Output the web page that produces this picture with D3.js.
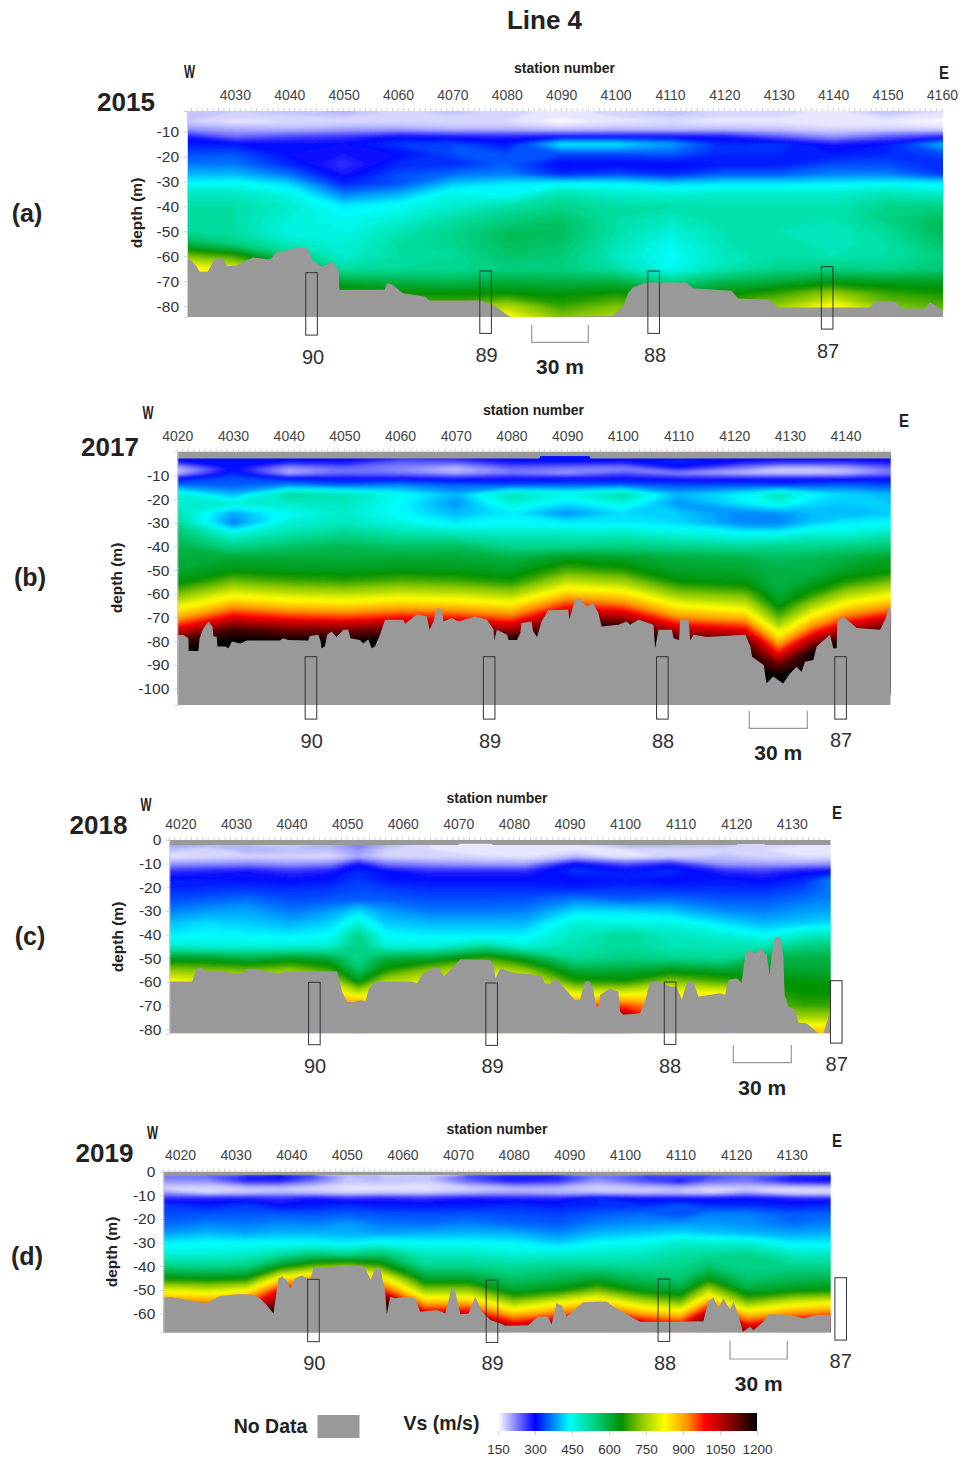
<!DOCTYPE html>
<html>
<head>
<meta charset="utf-8">
<title>Line 4</title>
<script src="https://cdn.jsdelivr.net/npm/d3@7"></script>
<style>
    html, body { margin: 0; padding: 0; background: #fff; }
    svg { display: block; }
    text { font-family: "Liberation Sans", Arial, sans-serif; fill: #222; }
</style>
</head>
<body>
<div id="chart"></div>
<script>
(function(d3) {
    'use strict';

    // Vs (m/s), one row per depth, one column per station
    var stations15 = [4021, 4030, 4040, 4050, 4060, 4070, 4080, 4090, 4100, 4110, 4120, 4130, 4140, 4150, 4160];
    var depths15 = [2, 6, 9, 12, 15, 19, 23, 27, 31, 35, 40, 45, 50, 55, 60, 65, 70, 75, 80, 85];
    var vs15 = [
        [190,180,185,195,175,185,175,165,175,190,175,175,165,190,170],
        [180,165,170,170,175,170,170,155,165,170,165,165,160,160,155],
        [215,200,195,205,205,195,195,185,190,190,190,185,175,180,175],
        [290,240,260,270,300,290,285,300,300,300,295,250,215,250,280],
        [310,310,300,300,330,340,310,430,430,390,320,330,290,310,400],
        [340,345,300,290,300,340,340,340,340,350,320,320,310,320,340],
        [365,365,320,270,320,320,350,300,300,300,310,310,340,340,320],
        [400,400,360,290,340,360,370,320,340,320,350,350,370,370,330],
        [445,450,420,320,345,410,430,445,440,420,430,430,435,445,440],
        [490,490,460,370,395,460,440,500,480,470,480,480,480,500,480],
        [510,510,480,430,450,480,510,530,510,510,500,500,500,530,540],
        [520,510,470,450,470,510,540,560,510,490,510,500,500,540,570],
        [520,510,460,460,500,530,570,570,510,470,500,500,490,520,580],
        [590,540,490,470,510,530,570,560,500,450,500,510,490,510,560],
        [720,680,550,480,510,520,560,550,490,445,490,510,500,510,540],
        [840,800,660,510,520,525,540,540,510,450,500,530,540,530,550],
        [880,860,720,600,590,580,600,590,590,530,580,600,630,620,620],
        [900,880,800,680,650,650,650,640,660,620,640,680,740,680,660],
        [900,900,850,760,720,700,760,680,720,700,700,740,830,720,700],
        [900,900,880,800,780,760,840,730,760,740,740,780,860,760,740]
    ];
    var bed15 = [
        [4021.2,60],[4023,64.2],[4023.5,66.2],[4025,66.2],[4026.4,60.9],[4027.9,61],[4028.5,64],[4030.3,63.7],
        [4032.2,61.6],[4033.4,60.5],[4036.5,61.3],[4037.7,58.3],[4039.6,57.6],[4041.4,56.5],[4043.3,56.5],
        [4044.2,61.5],[4046,64.2],[4047.9,62.2],[4049.1,65.5],[4049.2,73.5],[4057.5,73.5],[4058,70.8],[4059,71.5],
        [4060.9,74.9],[4064.9,76.2],[4065.8,77.8],[4075.3,77.8],[4078,80.2],[4079.6,82.9],[4080.8,84.5],
        [4099.5,84],[4101.4,80.2],[4102.3,74.9],[4103.2,72.5],[4105.7,70.5],[4113,70.5],[4114.2,72.9],[4121.3,73.9],
        [4122.5,77],[4128.3,77.4],[4129.8,80.6],[4146.7,80.6],[4148,77.9],[4151.6,78.4],[4152.5,81],[4156.9,81],
        [4157.8,78.4],[4160.2,81.8]
    ];

    var stations17 = [4020, 4030, 4040, 4050, 4060, 4070, 4080, 4090, 4100, 4110, 4122, 4128, 4134, 4140, 4148];
    var depths17 = [2, 4, 7, 9, 11, 14, 18, 22, 26, 30, 35, 40, 45, 50, 55, 60, 65, 70, 75, 80, 85, 90, 95, 100];
    var vs17 = [
        [300,300,300,300,300,300,300,300,300,300,300,300,300,300,300],
        [300,300,300,300,250,260,300,300,300,320,300,290,290,290,300],
        [190,300,210,240,220,190,240,230,220,290,220,190,190,200,240],
        [190,320,200,240,230,200,230,210,250,220,190,185,185,190,230],
        [290,340,300,290,290,280,290,290,290,280,280,280,280,285,290],
        [360,350,370,350,370,350,340,350,350,340,340,330,340,350,340],
        [470,400,520,500,450,400,500,460,510,400,440,500,440,420,400],
        [480,470,480,490,440,380,470,420,460,380,430,460,420,410,410],
        [500,390,450,480,440,400,430,380,420,410,370,380,400,400,410],
        [520,370,470,490,460,430,440,430,430,420,370,370,410,430,440],
        [560,470,510,530,510,500,490,490,490,470,450,450,480,470,500],
        [590,530,560,580,560,570,530,530,540,530,520,530,530,540,550],
        [600,610,605,600,605,605,595,630,620,600,590,570,580,595,620],
        [610,640,630,625,635,630,620,690,665,615,610,590,590,620,640],
        [640,715,690,680,700,690,665,775,750,650,635,590,620,665,715],
        [715,805,775,765,785,775,750,870,845,730,705,605,665,750,805],
        [805,900,870,860,880,870,845,980,945,825,790,635,750,845,900],
        [900,1015,980,965,990,980,945,1110,1070,920,885,700,845,945,1015],
        [1015,1150,1110,1100,1125,1110,1070,1200,1200,1045,1000,785,945,1070,1150],
        [1150,1200,1200,1200,1200,1200,1200,1200,1200,1175,1130,880,1070,1200,1200],
        [1200,1200,1200,1200,1200,1200,1200,1200,1200,1200,1200,990,1200,1200,1200],
        [1200,1200,1200,1200,1200,1200,1200,1200,1200,1200,1200,1125,1200,1200,1200],
        [1200,1200,1200,1200,1200,1200,1200,1200,1200,1200,1200,1200,1200,1200,1200],
        [1200,1200,1200,1200,1200,1200,1200,1200,1200,1200,1200,1200,1200,1200,1200]
    ];
    var bed17 = [
        [4020,77.4],[4021.1,77.4],[4022,78.8],[4022.05,84.2],[4023.8,84.2],[4024,78.8],[4024.7,74.5],[4025.6,71.7],
        [4026.3,73.8],[4026.5,78],[4027.1,78.3],[4027.2,82.3],[4028.6,82.3],[4029.2,83],[4029.8,80.2],[4031.3,81],
        [4032.5,79.8],[4038.4,79.8],[4039,78.8],[4039.9,79.5],[4043.5,79.8],[4043.8,77.8],[4045.3,77.3],[4045.7,79.8],
        [4045.9,83],[4046.5,82.3],[4046.9,77.3],[4047.7,76],[4048.6,78.3],[4049.8,75.2],[4050.7,75.2],[4051.1,78.8],
        [4052.8,79.5],[4053.4,81],[4054.3,79.2],[4054.9,83],[4055.5,82.3],[4056.4,77.3],[4057.3,71],[4060.6,71],
        [4060.9,72.7],[4063,68.8],[4064.8,69.5],[4065.3,75.2],[4066,71.7],[4066.6,66],[4067.5,66.7],[4067.8,71.7],
        [4069.3,70.3],[4070.5,71.7],[4073.5,69.6],[4075.6,71],[4076.8,75.2],[4076.9,79.8],[4077.4,75.2],[4079.2,77.3],
        [4079.5,79.5],[4081,79.5],[4081.6,76.6],[4081.8,72.4],[4083.6,71.7],[4083.9,75.9],[4084.6,78.3],[4085.4,71.7],
        [4086.6,67],[4090.2,66.7],[4090.4,70.9],[4091.4,62.5],[4092.3,62],[4093.5,65.3],[4094.7,63.9],[4095.6,68.1],
        [4096.2,73.8],[4099.2,73.1],[4100.7,71.7],[4101.3,73.1],[4102.8,71],[4105.5,73.1],[4105.8,83],[4106.4,75.2],
        [4108.8,75.2],[4109.1,78.8],[4110.1,79.5],[4110.3,71],[4111.8,71],[4112.1,79.8],[4112.7,77.3],[4115.1,78.3],
        [4122,77.3],[4122.9,82.3],[4123.2,86.6],[4125.3,90.1],[4125.8,97.9],[4127,95],[4128.8,97.9],[4130,93.7],
        [4131.2,90.8],[4132.1,93],[4132.7,88.7],[4134.2,88],[4134.8,82.3],[4137.2,77.3],[4137.8,83],[4138.4,83],
        [4138.5,71.7],[4139.6,69.6],[4142,74.5],[4146.2,75.2],[4147.1,71],[4147.7,66],[4148.1,66]
    ];
    var strip17 = [[4020,2.9],[4085,2.9],[4085.2,1.8],[4094,1.8],[4094.2,2.9],[4148.1,2.9]];

    var stations18 = [4018, 4025, 4032, 4040, 4047, 4052, 4057, 4065, 4075, 4082, 4091, 4100, 4108, 4118, 4125, 4132, 4137];
    var depths18 = [2, 4, 7, 10, 13, 17, 21, 25, 30, 35, 40, 45, 50, 55, 60, 65, 70, 75, 80];
    var vs18 = [
        [210,200,190,180,200,230,200,170,165,165,170,200,200,190,170,170,170],
        [190,170,200,190,190,215,180,170,160,160,165,170,170,175,170,165,165],
        [165,170,175,175,170,200,175,170,170,165,190,160,175,185,175,170,170],
        [210,215,220,210,220,290,230,215,205,205,300,250,280,210,205,205,210],
        [270,280,290,270,285,320,300,275,275,275,330,310,330,275,265,290,300],
        [310,310,305,300,310,330,310,305,305,305,300,310,300,310,300,320,370],
        [320,325,330,325,330,340,335,325,325,325,320,330,325,325,325,340,365],
        [340,350,360,340,345,350,350,340,340,345,370,350,360,345,345,360,370],
        [370,385,390,365,385,420,385,365,365,370,420,420,410,375,370,385,390],
        [405,420,410,395,415,470,410,400,400,400,470,460,460,420,400,410,420],
        [430,440,435,430,440,530,440,430,430,430,490,520,490,470,440,480,490],
        [480,470,470,470,475,540,470,470,520,470,500,520,500,500,500,540,550],
        [620,620,590,620,600,530,600,610,680,620,520,540,530,520,590,590,590],
        [730,720,710,730,680,560,660,730,780,730,600,600,630,610,620,610,610],
        [830,800,800,800,780,640,760,800,830,830,670,660,730,690,650,640,640],
        [900,860,860,860,860,780,840,860,860,860,810,810,830,830,680,650,650],
        [900,900,900,900,900,950,900,900,900,900,950,960,900,900,700,680,680],
        [900,900,900,900,900,1050,900,900,900,900,1050,1100,900,900,760,750,750],
        [900,900,900,900,900,1050,900,900,900,900,1050,1100,900,900,830,860,860]
    ];
    var bed18 = [
        [4018.1,59.9],[4022.1,59.9],[4022.4,57.8],[4023,54.3],[4023.6,54],[4024.5,55.3],[4027.8,55.3],[4029,56.4],
        [4031.1,56.4],[4032,54.7],[4033.8,54.7],[4035.6,55.7],[4037.4,56.4],[4039.2,55.7],[4048.2,55.7],[4049.1,64.2],
        [4050,68.4],[4051.2,68.7],[4052.4,67.7],[4053.3,68.4],[4053.9,62.8],[4055.1,59.9],[4061.4,59.9],[4062.6,60.6],
        [4063.5,56.8],[4065.6,54],[4066.5,54.3],[4067.4,57.8],[4068.3,55.7],[4070.4,50.5],[4075.8,50.8],[4076.4,53.6],
        [4076.7,58.5],[4077.6,54.3],[4079.1,55.7],[4080.5,56.4],[4083,56.8],[4085,57.8],[4085.6,60.6],[4086.5,60.9],
        [4087.5,58.5],[4088.6,61.4],[4091,67.7],[4091.9,67.7],[4092.8,59.9],[4093.7,59.9],[4094.3,63.5],[4094.8,70.5],
        [4095.2,70.5],[4095.5,65.6],[4097.3,62.8],[4098.8,64.2],[4099.1,72.6],[4099.7,74],[4102.7,73.3],[4103.6,68.4],
        [4104.5,59.9],[4105.7,59.9],[4106.9,60.6],[4108.1,62.1],[4109.3,62.1],[4110.2,67.7],[4111.2,59.9],[4112.3,59.9],
        [4113.2,66.3],[4117.1,64.9],[4118,65.6],[4118.6,59.2],[4120.1,58.5],[4121,60.6],[4121.6,48],[4122.5,46.5],
        [4123.4,48],[4124.3,45.8],[4125.5,48.7],[4126,57.1],[4126.4,48.7],[4127,40.9],[4127.9,40.9],[4128.5,49.4],
        [4128.7,65.6],[4129.4,70.5],[4130.6,71.9],[4131.2,77.2],[4132.7,77.6],[4134.8,81.8],[4135.7,81.8],[4136.9,72.6],
        [4137,72.6]
    ];
    var strip18 = [[4018,2.1],[4070,2.1],[4070.2,1.6],[4076,1.6],[4076.2,2.1],[4120,2.1],[4120.2,1.7],[4125,1.7],[4125.2,2.1],[4137,2.1]];

    var stations19 = [4017, 4025, 4032, 4038, 4044, 4050, 4056, 4064, 4072, 4080, 4088, 4095, 4103, 4110, 4115, 4122, 4130, 4137];
    var depths19 = [2, 4, 7, 9, 11, 14, 18, 22, 26, 30, 35, 40, 45, 50, 55, 60, 65, 68];
    var vs19 = [
        [230,240,280,300,260,190,190,180,260,290,280,230,260,260,260,240,280,290],
        [215,215,280,280,230,185,190,180,240,290,270,210,250,290,240,230,290,300],
        [175,170,180,180,175,165,165,165,175,190,190,175,180,190,175,180,170,175],
        [215,180,190,200,190,180,185,185,200,210,200,195,190,190,180,210,170,170],
        [270,280,280,270,290,270,280,270,290,280,280,320,290,290,290,300,280,270],
        [330,310,330,300,310,320,310,310,310,320,310,320,320,340,320,320,310,320],
        [340,345,345,350,345,350,345,340,345,340,335,350,360,340,370,370,350,355],
        [355,370,365,375,370,385,365,360,370,355,350,370,380,385,385,380,360,370],
        [385,400,390,400,400,395,390,395,400,395,375,400,410,420,410,400,390,395],
        [430,440,440,440,440,430,450,440,440,435,410,440,450,480,470,470,430,430],
        [470,470,480,510,550,530,560,490,490,470,475,480,490,510,520,530,490,490],
        [540,530,540,630,700,730,680,530,530,520,530,530,520,530,560,530,530,530],
        [640,630,645,830,900,930,850,610,610,560,580,605,570,555,630,555,575,585],
        [800,780,810,1000,1060,1100,990,730,730,610,640,710,630,605,760,605,630,640],
        [930,915,945,1100,1200,1200,1200,875,875,730,800,860,760,710,900,710,780,805],
        [1100,1080,1115,1200,1200,1200,1200,1030,1030,875,930,1005,900,860,1060,860,915,940],
        [1200,1200,1200,1200,1200,1200,1200,1200,1200,1030,1100,1180,1060,1005,1200,1005,1080,1110],
        [1200,1200,1200,1200,1200,1200,1200,1200,1200,1150,1200,1200,1170,1110,1200,1110,1190,1200]
    ];
    var bed19 = [
        [4017,53.2],[4018.8,53.2],[4022.4,54.8],[4024.8,55.7],[4027.2,52.6],[4030.2,51.9],[4032.6,51.9],[4034.4,53.6],
        [4035.6,56.5],[4036.8,60],[4037.7,45.1],[4038.3,44.4],[4039.2,46],[4039.8,49.4],[4040.7,45.1],[4041.9,44],
        [4043.4,45.8],[4044,40.9],[4047.6,40.1],[4052.4,39.7],[4053.3,40.9],[4054.3,45.8],[4055.1,40.9],[4056,40.9],
        [4056.9,50.8],[4057.2,60.4],[4057.8,52.9],[4058.7,53.6],[4060.8,52.9],[4062.3,53.6],[4063.2,59.3],[4066.2,58.6],
        [4067.7,60],[4068.9,48.7],[4069.5,50.8],[4070.4,60.4],[4071.9,60],[4073.1,52.9],[4074.3,59.3],[4075.8,62.8],
        [4077.6,64.3],[4078.5,65.2],[4082.6,65],[4084.4,61.4],[4086.2,61.4],[4086.8,64.7],[4087.7,55.7],[4088.6,56.5],
        [4089.5,61.4],[4092.5,55.3],[4096.7,55],[4098.2,57.6],[4102.7,63.5],[4107.5,63.5],[4114.1,63.3],[4115,55],
        [4115.9,53.3],[4116.8,57.9],[4117.7,53.6],[4118.9,58.6],[4119.5,55],[4120.4,60.7],[4121.2,67.8],[4122.5,65.7],
        [4123.1,67.1],[4124.9,63.5],[4125.8,60.4],[4129.7,60.7],[4132.1,62.1],[4134.5,60.7],[4137,60.7]
    ];
    var strip19 = [[4017,1.4],[4137,1.4]];

    // tick labels and well names
    var xTicks15 = d3.range(4030, 4161, 10);
    var xTicks17 = d3.range(4020, 4141, 10);
    var xTicks18 = d3.range(4020, 4131, 10);
    var yTicks15 = d3.range(10, 81, 10);
    var yTicks17 = d3.range(10, 101, 10);
    var yTicks18 = d3.range(0, 81, 10);
    var yTicks19 = d3.range(0, 61, 10);
    var wellNames = ['90', '89', '88', '87'];
    var wellStations15 = [4044.1, 4076.1, 4107, 4138.9];
    var wellStations17 = [4044, 4076, 4107.1, 4139.1];
    var wellStations18 = [4044.1, 4076, 4108.1, 4138];
    var wellStations19 = [4044, 4076.1, 4107, 4138.8];

    var colorValues = [150, 300, 440, 530, 650, 730, 825, 920, 990, 1100, 1200];
    var colorRange = ['#ffffff', '#0000ff', '#00ffff', '#00d68c', '#009000', '#8cc800', '#ffff00', '#ff9000', '#ff0000', '#800000', '#000000'];
    var legendTicks = [150, 300, 450, 600, 750, 900, 1050, 1200];

    var width = 961,
        height = 1460,
        grey = '#999999';

    var color = d3.scaleLinear().domain(colorValues).range(colorRange).clamp(true);
    var thresholds = d3.range(150, 1200, 10);

    var svg = d3.select('#chart').append('svg')
        .attr('width', width)
        .attr('height', height);

    var defs = svg.append('defs');
    defs.append('filter').attr('id', 'soft')
        .append('feGaussianBlur').attr('stdDeviation', 1.6);

    function label(x, y, txt, size, weight, fill) {
        return svg.append('text')
            .attr('x', x)
            .attr('y', y)
            .attr('dy', '.35em')
            .attr('text-anchor', 'middle')
            .attr('font-size', size)
            .attr('font-weight', weight || 'normal')
            .style('fill', fill || '#222')
            .text(txt);
    }

    function drawPanel(p) {
        var x = d3.scaleLinear().domain(p.stationDomain).range([p.left, p.right]);
        var y = d3.scaleLinear().domain(p.depthDomain).range([p.top, p.bottom]);

        // contour coordinates are in grid cells, cell centres sit at i + 0.5
        var gridX = d3.scaleLinear().domain(p.stations.map(function(d, i) { return i + 0.5; })).range(p.stations);
        var gridY = d3.scaleLinear().domain(p.depths.map(function(d, i) { return i + 0.5; })).range(p.depths);

        var project = d3.geoTransform({
            point: function(a, b) { this.stream.point(x(gridX(a)), y(gridY(b))); }
        });
        var path = d3.geoPath(project);

        var contours = d3.contours()
            .size([p.stations.length, p.depths.length])
            .thresholds(thresholds)(p.vs.flat());

        var clipId = 'clip' + p.year;
        defs.append('clipPath').attr('id', clipId)
            .append('rect')
            .attr('x', p.left)
            .attr('y', p.top)
            .attr('width', p.right - p.left)
            .attr('height', p.bottom - p.top);

        var plot = svg.append('g').attr('clip-path', 'url(#' + clipId + ')');

        plot.append('g')
            .attr('filter', 'url(#soft)')
            .selectAll('path')
            .data(contours)
            .enter()
            .append('path')
            .attr('d', path)
            .attr('fill', function(d) { return color(d.value + 5); });

        // no data below the profile
        var bedArea = d3.area()
            .x(function(d) { return x(d[0]); })
            .y0(p.bottom + 1)
            .y1(function(d) { return y(d[1]); });

        plot.append('path')
            .datum(p.bed)
            .attr('d', bedArea)
            .attr('fill', grey);

        // no data strip along the surface
        if (p.strip) {
            var stripArea = d3.area()
                .x(function(d) { return x(d[0]); })
                .y0(p.top - 1)
                .y1(function(d) { return y(d[1]); });

            plot.append('path')
                .datum(p.strip)
                .attr('d', stripArea)
                .attr('fill', grey);
        }

        // little tick combs, one per station
        var minor = svg.append('g').attr('stroke', '#d0d0d0');
        minor.selectAll('line')
            .data(d3.range(Math.ceil(p.stationDomain[0]), p.stationDomain[1]))
            .enter()
            .append('line')
            .attr('x1', function(d) { return x(d); })
            .attr('x2', function(d) { return x(d); })
            .attr('y1', p.top - 3)
            .attr('y2', p.top);

        var xAxis = svg.append('g')
            .attr('transform', 'translate(0,' + (p.top - 3) + ')')
            .call(d3.axisTop(x).tickValues(p.xTicks).tickFormat(d3.format('d')).tickSize(0).tickPadding(p.xPadding));
        xAxis.select('.domain').remove();
        xAxis.selectAll('text')
            .attr('font-size', 14)
            .style('fill', '#444');

        var yAxis = svg.append('g')
            .attr('transform', 'translate(' + p.left + ',0)')
            .call(d3.axisLeft(y).tickValues(p.yTicks).tickFormat(function(d) { return d === 0 ? '0' : '-' + d; }).tickSize(3).tickPadding(5));
        yAxis.select('.domain').attr('stroke', '#d0d0d0');
        yAxis.selectAll('.tick line').attr('stroke', '#d0d0d0');
        yAxis.selectAll('text')
            .attr('font-size', 15.5)
            .style('fill', '#333');

        // wells
        svg.append('g').selectAll('rect')
            .data(p.wellStations)
            .enter()
            .append('rect')
            .attr('x', function(d) { return x(d) - 5.8; })
            .attr('y', function(d, i) { return p.wellTops[i]; })
            .attr('width', 11.6)
            .attr('height', 62.4)
            .attr('fill', 'none')
            .attr('stroke', '#333')
            .attr('stroke-width', 1);

        wellNames.forEach(function(name, i) {
            label(p.wellLabelX[i], p.wellLabelY[i], name, 20, 'normal', '#333');
        });

        // scale bar
        var s = p.scaleBar;
        svg.append('path')
            .attr('d', d3.line()([[s[0], s[2]], [s[0], s[3]], [s[1], s[3]], [s[1], s[2]]]))
            .attr('fill', 'none')
            .attr('stroke', '#999')
            .attr('stroke-width', 1.2);
        label((s[0] + s[1]) / 2, s[3] + 24.5, '30 m', 21, 'bold');

        label(p.yearPos[0], p.yearPos[1], p.year, 26, 'bold');
        label(p.tagPos[0], p.tagPos[1], p.tag, 25, 'bold');
        label(p.stationPos[0], p.stationPos[1], 'station number', 14, 'bold');
        label(p.westPos[0], p.westPos[1], 'W', 18, 'bold')
            .attr('textLength', 11)
            .attr('lengthAdjust', 'spacingAndGlyphs');
        label(p.eastPos[0], p.eastPos[1], 'E', 19, 'bold')
            .attr('textLength', 10)
            .attr('lengthAdjust', 'spacingAndGlyphs');
        svg.append('text')
            .attr('transform', 'translate(' + p.depthPos[0] + ',' + p.depthPos[1] + ') rotate(-90)')
            .attr('dy', '.35em')
            .attr('text-anchor', 'middle')
            .attr('font-size', 15.5)
            .attr('font-weight', 'bold')
            .text('depth (m)');
    }

    label(544.5, 20, 'Line 4', 26, 'bold');

    drawPanel({
        year: '2015', tag: '(a)',
        stations: stations15, depths: depths15, vs: vs15, bed: bed15,
        stationDomain: [4021.2, 4160.2], depthDomain: [1.7, 84.4],
        left: 187, right: 943, top: 111, bottom: 317,
        xTicks: xTicks15, yTicks: yTicks15, xPadding: 8,
        wellStations: wellStations15, wellTops: [272.7, 271, 271, 266.7],
        wellLabelX: [313, 486.5, 655, 828], wellLabelY: [357, 355, 355, 351],
        scaleBar: [531.7, 588.3, 325, 342.3],
        yearPos: [126, 102], tagPos: [27, 213], stationPos: [564.5, 68],
        westPos: [189.5, 72], eastPos: [944, 72], depthPos: [137, 213]
    });

    drawPanel({
        year: '2017', tag: '(b)',
        stations: stations17, depths: depths17, vs: vs17, bed: bed17, strip: strip17,
        stationDomain: [4020, 4148.1], depthDomain: [0, 107],
        left: 177.3, right: 890.7, top: 451.7, bottom: 705,
        xTicks: xTicks17, yTicks: yTicks17, xPadding: 8,
        wellStations: wellStations17, wellTops: [656.7, 656.7, 656.7, 656.7],
        wellLabelX: [311.7, 490, 663, 841], wellLabelY: [741, 741, 741, 740],
        scaleBar: [749.3, 807.3, 710.7, 728.3],
        yearPos: [110, 447], tagPos: [30, 577], stationPos: [533.5, 410],
        westPos: [148, 413], eastPos: [904, 420], depthPos: [117, 578]
    });

    drawPanel({
        year: '2018', tag: '(c)',
        stations: stations18, depths: depths18, vs: vs18, bed: bed18, strip: strip18,
        stationDomain: [4018, 4137], depthDomain: [0, 81.8],
        left: 169.3, right: 830.7, top: 840, bottom: 1033.3,
        xTicks: xTicks18, yTicks: yTicks18, xPadding: 8,
        wellStations: wellStations18, wellTops: [982.3, 983, 982, 980.7],
        wellLabelX: [315, 492.5, 670, 836.7], wellLabelY: [1066, 1066, 1066, 1064],
        scaleBar: [733.3, 791.3, 1045, 1062.7],
        yearPos: [98.5, 824.5], tagPos: [30, 936], stationPos: [497, 798],
        westPos: [146, 805], eastPos: [837, 812], depthPos: [118, 937]
    });

    drawPanel({
        year: '2019', tag: '(d)',
        stations: stations19, depths: depths19, vs: vs19, bed: bed19, strip: strip19,
        stationDomain: [4017, 4137], depthDomain: [0, 68],
        left: 163.3, right: 830.7, top: 1171.7, bottom: 1332.3,
        xTicks: xTicks18, yTicks: yTicks19, xPadding: 9,
        wellStations: wellStations19, wellTops: [1279.3, 1280, 1279, 1277.7],
        wellLabelX: [314.3, 492.5, 665, 840.7], wellLabelY: [1363, 1363, 1363, 1361],
        scaleBar: [730, 787.3, 1340.7, 1359],
        yearPos: [104.5, 1153], tagPos: [27, 1256], stationPos: [497, 1129],
        westPos: [152.5, 1133], eastPos: [837, 1140], depthPos: [112, 1252]
    });

    // legend
    label(270.5, 1426, 'No Data', 19.5, 'bold');
    svg.append('rect')
        .attr('x', 317.5)
        .attr('y', 1415)
        .attr('width', 42)
        .attr('height', 23)
        .attr('fill', grey);
    label(441.5, 1423, 'Vs (m/s)', 19.5, 'bold');

    var legendX = d3.scaleLinear().domain([150, 1200]).range([498, 757]);

    var gradient = defs.append('linearGradient').attr('id', 'vsRamp');
    gradient.selectAll('stop')
        .data(colorValues)
        .enter()
        .append('stop')
        .attr('offset', function(d) { return (d - 150) / 1050; })
        .attr('stop-color', function(d) { return color(d); });

    svg.append('rect')
        .attr('x', legendX(150))
        .attr('y', 1413)
        .attr('width', legendX(1200) - legendX(150))
        .attr('height', 18)
        .attr('fill', 'url(#vsRamp)');

    var legendAxis = svg.append('g')
        .attr('transform', 'translate(0,1431)')
        .call(d3.axisBottom(legendX).tickValues(legendTicks).tickFormat(d3.format('d')).tickSize(4).tickPadding(9));
    legendAxis.select('.domain').remove();
    legendAxis.selectAll('.tick line').attr('stroke', '#ccc');
    legendAxis.selectAll('text')
        .attr('font-size', 13.5)
        .style('fill', '#333');

})(window.d3);
</script>
</body>
</html>
